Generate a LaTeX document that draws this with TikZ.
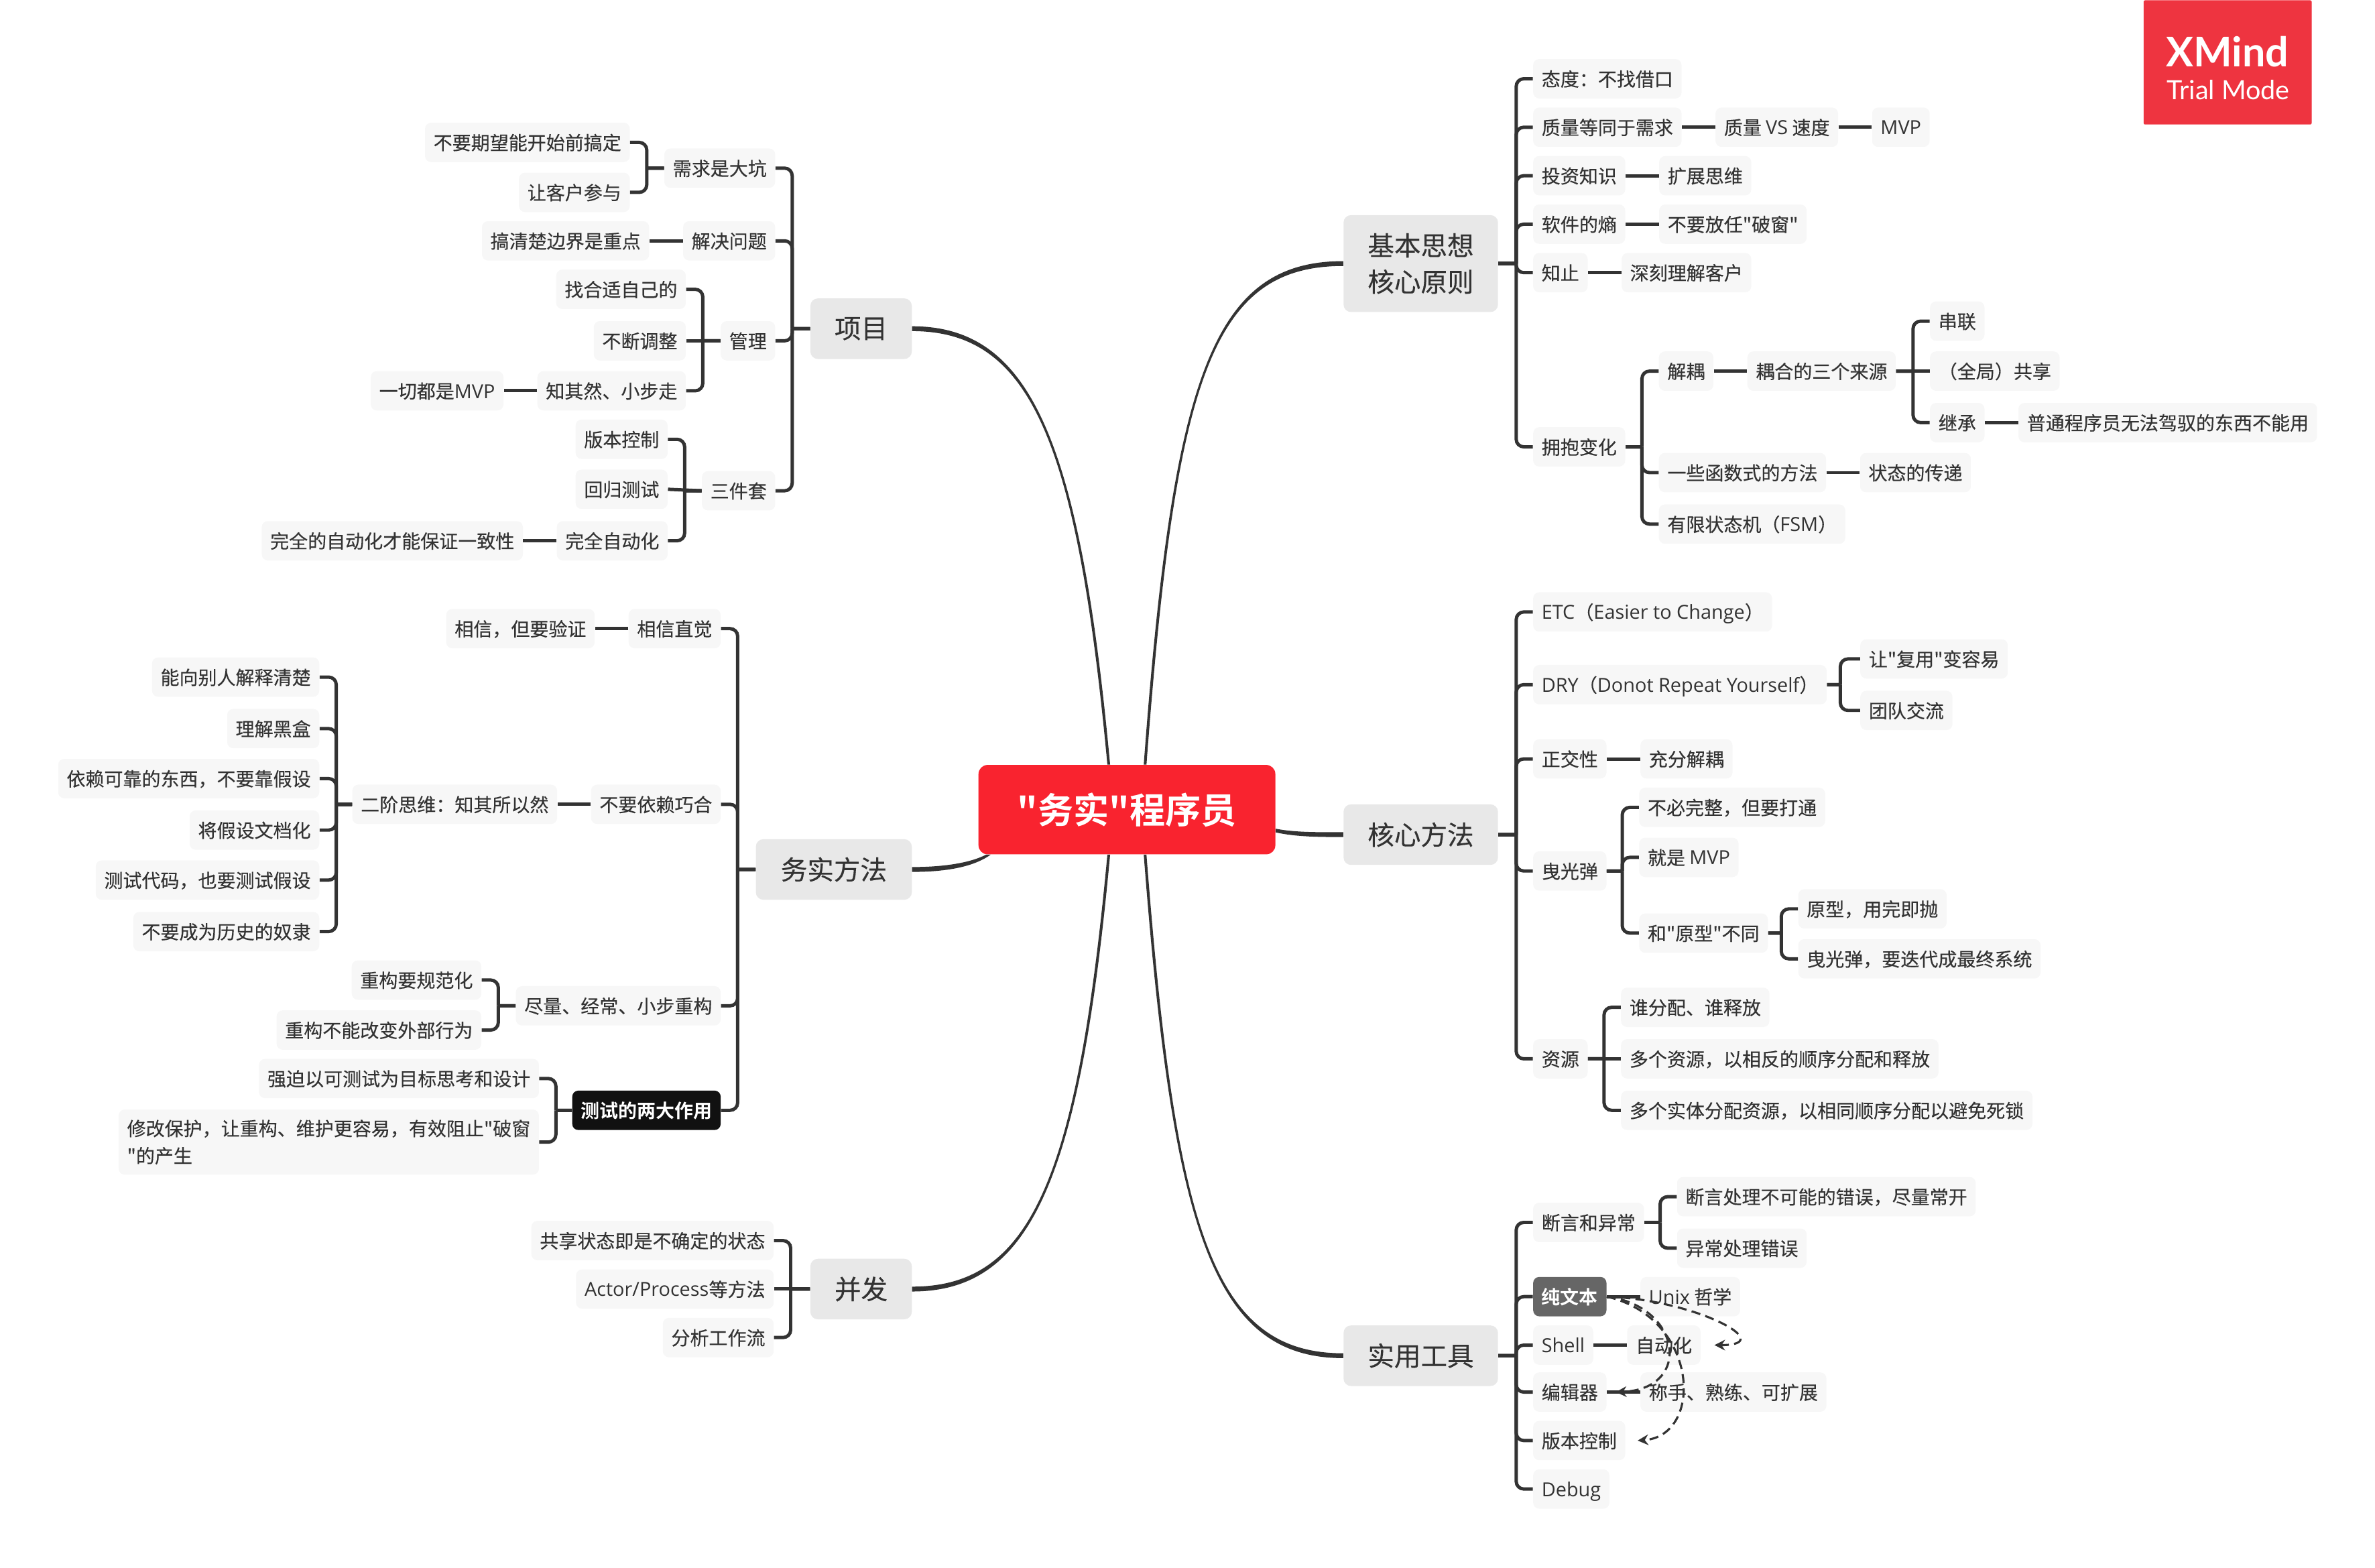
\documentclass[tikz,border=0pt]{standalone}
\usepackage{fontspec}
\usepackage{xcolor}
\usetikzlibrary{positioning, arrows.meta, calc}
\newfontfamily\cjk[FakeBold=0.25]{Noto Sans CJK SC}
\newfontfamily\cjkbold{Noto Sans CJK SC Bold}
\newfontfamily\lat[Scale=1.03]{Open Sans}
\newfontfamily\badgefont{Lato}
\definecolor{ink}{HTML}{333333}
\definecolor{rootred}{HTML}{F9232F}
\definecolor{badgered}{HTML}{EE3440}
\definecolor{topicbg}{HTML}{E8E8E8}
\definecolor{leafbg}{HTML}{F7F7F7}
\definecolor{markgrey}{HTML}{666666}
\definecolor{markblack}{HTML}{111111}
\tikzset{
  leafbase/.style={
    rectangle, rounded corners=4pt, fill=leafbg, text=ink, inner xsep=5.6pt, inner ysep=0pt,
    font=\cjk\fontsize{12.4}{18}\selectfont
  },
  leaf/.style={leafbase, minimum height=26pt, text height=12pt, text depth=2.2pt},
  topic/.style={
    rectangle, rounded corners=5pt, fill=topicbg, text=ink, minimum height=40pt, inner xsep=7pt,
    inner ysep=0pt, align=center, font=\cjk\fontsize{17.5}{24}\selectfont
  },
  root/.style={
    rectangle, rounded corners=6pt, fill=rootred, text=white, minimum width=196pt, minimum height=59pt,
    font=\cjkbold\fontsize{23.5}{30}\selectfont
  },
  grey leaf/.style={leaf, fill=markgrey, text=white, font=\cjkbold\fontsize{12.4}{18}\selectfont},
  black leaf/.style={leaf, fill=markblack, text=white, font=\cjkbold\fontsize{12.4}{18}\selectfont},
  every edge/.style={draw=ink, line width=2.2pt},
  fork/.style={rounded corners=5pt, to path={-- ({$(\tikztotarget)+(#1,0)$} |- \tikztostart) ++(0,0) |- (\tikztotarget)}},
  rfork/.style={fork=-11},
  lfork/.style={fork=11},
  branch/.style={fill=ink},
  relation/.style={draw=ink, line width=1.4pt, dash pattern=on 6pt off 3.5pt, -{Stealth[length=7pt,width=7pt]}},
}
\begin{document}
\begin{tikzpicture}[x=1pt, y=-1pt]
  \useasboundingbox (0,0) rectangle (1568,1035.1);

  \node[root] (main) at (744,534.5) {"务实"程序员};
  \node[topic, minimum width=102pt, minimum height=64pt] (basics) at (938,174) {基本思想\\核心原则};
  \node[topic, minimum width=102pt] (core) at (938,551) {核心方法};
  \node[topic, minimum width=102pt] (tools) at (938,895) {实用工具};
  \node[topic, minimum width=67pt] (project) at (568.5,217) {项目};
  \node[topic, minimum width=103pt] (practice) at (550.5,574) {务实方法};
  \node[topic, minimum width=67pt] (concur) at (568.5,851) {并发};

  \fill[branch] ([xshift=-.9pt]main.68) .. controls (774,250) and (800,172.4) .. ([yshift=1.6pt]basics.west)
     -- ([yshift=-1.6pt]basics.west) .. controls (800,175.6) and (776,250) .. ([xshift=.9pt]main.68) -- cycle;
  \fill[branch] ([yshift=1.2pt]main.352) .. controls (855,549.6) and (870,549.4) .. ([yshift=1.6pt]core.west)
     -- ([yshift=-1.6pt]core.west) .. controls (870,552.6) and (855,552.4) .. ([yshift=-1.2pt]main.352) -- cycle;
  \fill[branch] ([xshift=-.9pt]main.292) .. controls (774,810) and (800,896.6) .. ([yshift=-1.6pt]tools.west)
     -- ([yshift=1.6pt]tools.west) .. controls (800,893.4) and (776,810) .. ([xshift=.9pt]main.292) -- cycle;
  \fill[branch] ([xshift=.9pt]main.112) .. controls (713,290) and (680,215.4) .. ([yshift=1.6pt]project.east)
     -- ([yshift=-1.6pt]project.east) .. controls (680,218.6) and (711,290) .. ([xshift=-.9pt]main.112) -- cycle;
  \fill[branch] ([xshift=-1.5pt]main.198) .. controls (639,570.4) and (620,572.4) .. ([yshift=1.6pt]practice.east)
     -- ([yshift=-1.6pt]practice.east) .. controls (620,575.6) and (641,573.6) .. ([xshift=1.5pt]main.198) -- cycle;
  \fill[branch] ([xshift=.9pt]main.248) .. controls (713,780) and (680,852.6) .. ([yshift=-1.6pt]concur.east)
     -- ([yshift=1.6pt]concur.east) .. controls (680,849.4) and (711,780) .. ([xshift=-.9pt]main.248) -- cycle;

  % basics
  \node[leaf, anchor=west] (attitude) at (1012,52) {态度：不找借口};
  \node[leaf, anchor=west] (quality) at (1012,84) {质量等同于需求};
  \node[leaf, right=22pt of quality] (speed) {质量 {\lat VS} 速度};
  \node[leaf, right=22pt of speed] (mvpa) {\lat MVP};
  \node[leaf, anchor=west] (invest) at (1012,116) {投资知识};
  \node[leaf, right=22pt of invest] (expand) {扩展思维};
  \node[leaf, anchor=west] (entropy) at (1012,148) {软件的熵};
  \node[leaf, right=22pt of entropy] (window) {不要放任"破窗"};
  \node[leaf, anchor=west] (stop) at (1012,180) {知止};
  \node[leaf, right=22pt of stop] (client) {深刻理解客户};
  \node[leaf, anchor=west] (change) at (1012,295) {拥抱变化};
  \node[leaf, anchor=west] (decouple) at (1095,245) {解耦};
  \node[leaf, right=22pt of decouple] (sources) {耦合的三个来源};
  \node[leaf, anchor=west] (serial) at (1274,212) {串联};
  \node[leaf, anchor=west] (shared) at (1274,245) {（全局）共享};
  \node[leaf, anchor=west] (inherit) at (1274,279) {继承};
  \node[leaf, right=22pt of inherit] (ordinary) {普通程序员无法驾驭的东西不能用};
  \node[leaf, anchor=west] (functional) at (1095,312) {一些函数式的方法};
  \node[leaf, right=22pt of functional] (passing) {状态的传递};
  \node[leaf, anchor=west] (fsm) at (1095,346) {有限状态机（{\lat FSM}）};

  \path (basics.east) edge[rfork] (attitude.west) edge[rfork] (quality.west) edge[rfork] (invest.west)
        edge[rfork] (entropy.west) edge[rfork] (stop.west) edge[rfork] (change.west);
  \path (quality) edge (speed) (speed) edge (mvpa) (invest) edge (expand) (entropy) edge (window)
        (stop) edge (client) (decouple) edge (sources) (inherit) edge (ordinary) (functional) edge (passing);
  \path (change.east) edge[rfork] (decouple.west) edge[rfork] (functional.west) edge[rfork] (fsm.west);
  \path (sources.east) edge[rfork] (serial.west) edge (shared.west) edge[rfork] (inherit.west);

  % core
  \node[leaf, anchor=west] (etc) at (1012,404) {{\lat ETC}（{\lat Easier to Change}）};
  \node[leaf, anchor=west] (dry) at (1012,452) {{\lat DRY}（{\lat Donot Repeat Yourself}）};
  \node[leaf, anchor=west] (reuse) at (1228,435) {让"复用"变容易};
  \node[leaf, anchor=west] (team) at (1228,469) {团队交流};
  \node[leaf, anchor=west] (ortho) at (1012,501) {正交性};
  \node[leaf, right=22pt of ortho] (fullde) {充分解耦};
  \node[leaf, anchor=west] (tracer) at (1012,575) {曳光弹};
  \node[leaf, anchor=west] (unfinished) at (1082,533) {不必完整，但要打通};
  \node[leaf, anchor=west] (mvpb) at (1082,566) {就是 {\lat MVP}};
  \node[leaf, anchor=west] (proto) at (1082,616) {和"原型"不同};
  \node[leaf, anchor=west] (throw) at (1187,600) {原型，用完即抛};
  \node[leaf, anchor=west] (iterate) at (1187,633) {曳光弹，要迭代成最终系统};
  \node[leaf, anchor=west] (resource) at (1012,699) {资源};
  \node[leaf, anchor=west] (alloc) at (1070,665) {谁分配、谁释放};
  \node[leaf, anchor=west] (reverse) at (1070,699) {多个资源，以相反的顺序分配和释放};
  \node[leaf, anchor=west] (deadlock) at (1070,733) {多个实体分配资源，以相同顺序分配以避免死锁};

  \path (core.east) edge[rfork] (etc.west) edge[rfork] (dry.west) edge[rfork] (ortho.west)
        edge[rfork] (tracer.west) edge[rfork] (resource.west);
  \path (dry.east) edge[fork=-13] (reuse.west) edge[fork=-13] (team.west);
  \path (ortho) edge (fullde);
  \path (tracer.east) edge[rfork] (unfinished.west) edge[rfork] (mvpb.west) edge[rfork] (proto.west);
  \path (proto.east) edge[rfork] (throw.west) edge[rfork] (iterate.west);
  \path (resource.east) edge[rfork] (alloc.west) edge (reverse.west) edge[rfork] (deadlock.west);

  % tools
  \node[leaf, anchor=west] (assert) at (1012,807) {断言和异常};
  \node[leaf, anchor=west] (impossible) at (1107,790) {断言处理不可能的错误，尽量常开};
  \node[leaf, anchor=west] (errors) at (1107,824) {异常处理错误};
  \node[grey leaf, anchor=west] (plain) at (1012,856) {纯文本};
  \node[leaf, right=22pt of plain] (unix) {{\lat Unix} 哲学};
  \node[leaf, anchor=west] (shell) at (1012,888) {\lat Shell};
  \node[leaf, right=22pt of shell] (auto) {自动化};
  \node[leaf, anchor=west] (editor) at (1012,919) {编辑器};
  \node[leaf, right=22pt of editor] (handy) {称手、熟练、可扩展};
  \node[leaf, anchor=west] (vcs) at (1012,951) {版本控制};
  \node[leaf, anchor=west] (debug) at (1012,983) {\lat Debug};

  \path (tools.east) edge[rfork] (assert.west) edge[rfork] (plain.west) edge[rfork] (shell.west)
        edge[rfork] (editor.west) edge[rfork] (vcs.west) edge[rfork] (debug.west);
  \path (assert.east) edge[rfork] (impossible.west) edge[rfork] (errors.west);
  \path (plain) edge (unix) (shell) edge (auto) (editor) edge (handy);

  \draw[relation] (plain.east) .. controls (1120,858) and (1175,888) .. ([xshift=9pt]auto.east);
  \draw[relation] (plain.east) .. controls (1110,862) and (1118,917) .. ([xshift=6pt]editor.east);
  \draw[relation] (plain.east) .. controls (1122,870) and (1125,948) .. ([xshift=8pt]vcs.east);

  % project
  \node[leaf, anchor=east] (pit) at (512,111) {需求是大坑};
  \node[leaf, anchor=east] (nostart) at (416,94) {不要期望能开始前搞定};
  \node[leaf, anchor=east] (involve) at (416,127) {让客户参与};
  \node[leaf, anchor=east] (solve) at (512,159) {解决问题};
  \node[leaf, left=22pt of solve] (border) {搞清楚边界是重点};
  \node[leaf, anchor=east] (manage) at (512,225) {管理};
  \node[leaf, anchor=east] (suitable) at (453,191) {找合适自己的};
  \node[leaf, anchor=east] (adjust) at (453,225) {不断调整};
  \node[leaf, anchor=east] (small) at (453,258) {知其然、小步走};
  \node[leaf, left=22pt of small] (allmvp) {一切都是{\lat MVP}};
  \node[leaf, anchor=east] (three) at (512,324) {三件套};
  \node[leaf, anchor=east] (version) at (441,290) {版本控制};
  \node[leaf, anchor=east] (regress) at (441,323) {回归测试};
  \node[leaf, anchor=east] (fullauto) at (441,357) {完全自动化};
  \node[leaf, left=22pt of fullauto] (consist) {完全的自动化才能保证一致性};

  \path (project.west) edge[lfork] (pit.east) edge[lfork] (solve.east) edge[lfork] (manage.east) edge[lfork] (three.east);
  \path (pit.west) edge[lfork] (nostart.east) edge[lfork] (involve.east);
  \path (solve) edge (border) (small) edge (allmvp) (fullauto) edge (consist);
  \path (manage.west) edge[lfork] (suitable.east) edge (adjust.east) edge[lfork] (small.east);
  \path (three.west) edge[lfork] (version.east) edge (regress.east) edge[lfork] (fullauto.east);

  % practice
  \node[leaf, anchor=east] (instinct) at (476,415) {相信直觉};
  \node[leaf, left=22pt of instinct] (verify) {相信，但要验证};
  \node[leaf, anchor=east] (luck) at (476,531) {不要依赖巧合};
  \node[leaf, left=22pt of luck] (second) {二阶思维：知其所以然};
  \node[leaf, anchor=east] (explain) at (211,447) {能向别人解释清楚};
  \node[leaf, anchor=east] (blackbox) at (211,481) {理解黑盒};
  \node[leaf, anchor=east] (reliable) at (211,514) {依赖可靠的东西，不要靠假设};
  \node[leaf, anchor=east] (document) at (211,548) {将假设文档化};
  \node[leaf, anchor=east] (testcode) at (211,581) {测试代码，也要测试假设};
  \node[leaf, anchor=east] (history) at (211,615) {不要成为历史的奴隶};
  \node[leaf, anchor=east] (refactor) at (476,664) {尽量、经常、小步重构};
  \node[leaf, anchor=east] (normal) at (318,647) {重构要规范化};
  \node[leaf, anchor=east] (outside) at (318,680) {重构不能改变外部行为};
  \node[black leaf, anchor=east] (twouse) at (476,733) {测试的两大作用};
  \node[leaf, anchor=east] (force) at (356,712) {强迫以可测试为目标思考和设计};
  \node[leafbase, anchor=east, align=left, minimum height=43pt] (protect) at (356,754)
    {修改保护，让重构、维护更容易，有效阻止"破窗\\"的产生};

  \path (practice.west) edge[lfork] (instinct.east) edge[lfork] (luck.east) edge[lfork] (refactor.east) edge[lfork] (twouse.east);
  \path (instinct) edge (verify) (luck) edge (second);
  \path (second.west) edge[lfork] (explain.east) edge[lfork] (blackbox.east) edge[lfork] (reliable.east)
        edge[lfork] (document.east) edge[lfork] (testcode.east) edge[lfork] (history.east);
  \path (refactor.west) edge[lfork] (normal.east) edge[lfork] (outside.east);
  \path (twouse.west) edge[lfork] (force.east) edge[lfork] (protect.east);

  % concurrency
  \node[leaf, anchor=east] (state) at (511,819) {共享状态即是不确定的状态};
  \node[leaf, anchor=east] (actor) at (511,851) {{\lat Actor/Process}等方法};
  \node[leaf, anchor=east] (flow) at (511,883) {分析工作流};

  \path (concur.west) edge[lfork] (state.east) edge (actor.east) edge[lfork] (flow.east);

  % trial mark
  \node[rectangle, fill=badgered, rounded corners=1pt, minimum width=111pt, minimum height=82pt, anchor=north west] (badge) at (1415,0) {};
  \node[text=white, font=\fontsize{27}{30}\selectfont\badgefont\bfseries, inner sep=0pt] (xmind) at (1470.5,34) {XMind};
  \node[text=white, font=\fontsize{17.5}{20}\selectfont\badgefont, inner sep=0pt] (trial) at (1471,59.5) {Trial Mode};
\end{tikzpicture}
\end{document}
